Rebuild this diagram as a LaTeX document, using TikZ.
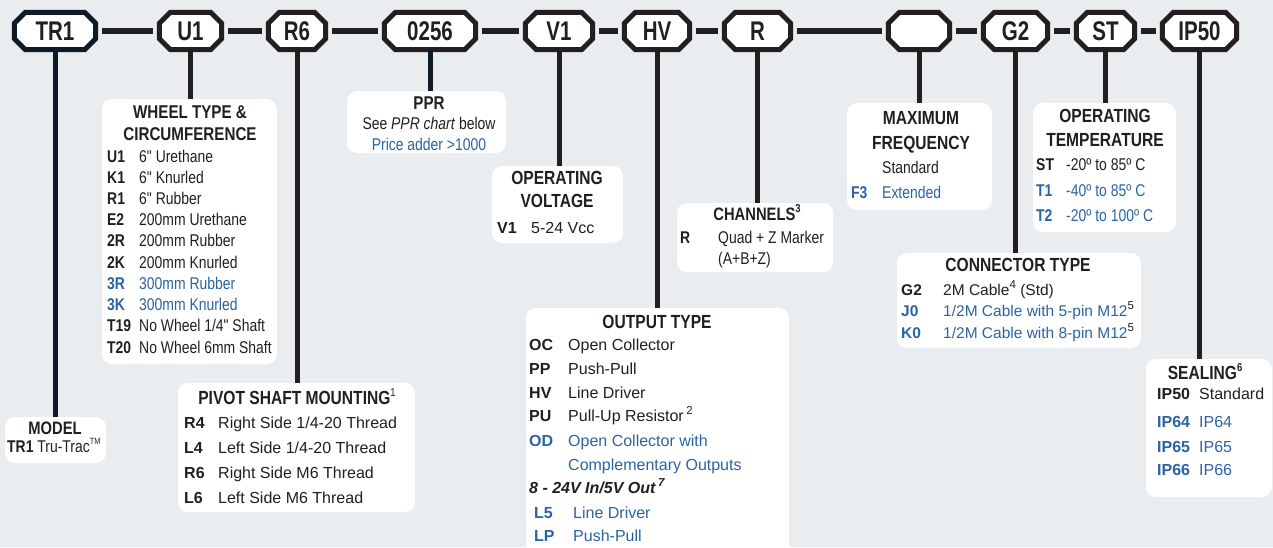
\documentclass[tikz,border=0pt]{standalone}
\usepackage{fontspec}
\setmainfont{Liberation Sans}
\newfontfamily\nar[FakeStretch=0.82]{Liberation Sans}
\newfontfamily\narr[FakeStretch=0.76]{Liberation Sans}
\usetikzlibrary{calc,backgrounds}
\definecolor{bg}{HTML}{E9EDEF}
\definecolor{ink}{HTML}{231F20}
\definecolor{navy}{HTML}{0E1A26}
\definecolor{blu}{HTML}{2C63A3}
\newcommand\myN{\nar\fontsize{17}{20}\selectfont}
\newcommand\myR{\fontsize{16}{19}\selectfont}
\newcommand\myC{\fontsize{15.5}{19}\selectfont}
\newcommand\myT{\nar\bfseries\fontsize{19}{22}\selectfont}
\newcommand\myTs{\nar\bfseries\fontsize{18.5}{22}\selectfont}
\newcommand\myTop{\narr\bfseries\fontsize{27}{27}\selectfont}
\newcommand\mysup[1]{\raisebox{0.42em}{\fontsize{11.5}{11.5}\selectfont #1}}
\newcommand\myrow[8]{%
  \node[lt,font=#5\bfseries,text=#6] (#1c) at (#2,#4) {#7};
  \node[lt,font=#5,text=#6] (#1d) at (#3,#4) {#8};}
\tikzset{
  topbox/.style={rectangle, inner sep=0, minimum height=37, text=ink, font=\myTop},
  info/.style={rectangle, fill=white, rounded corners=10, inner sep=0},
  lt/.style={anchor=base west, inner sep=0, text=ink},
  ct/.style={anchor=base, inner sep=0, text=ink},
  drop/.style={draw=ink, line width=5},
  conn/.style={draw=ink, line width=6, shorten <=6.5, shorten >=6.5},
}
\begin{document}
\begin{tikzpicture}[x=1pt,y=-1pt]
\useasboundingbox (0,0) rectangle (1273,547);
% top code boxes
\node[topbox, minimum width=81] (ntr) at (55,31) {TR1};
\node[topbox, minimum width=62] (nu) at (190.5,31) {U1};
\node[topbox, minimum width=57] (nr6) at (297,31) {R6};
\node[topbox, minimum width=91] (nppr) at (430,31) {0256};
\node[topbox, minimum width=67] (nv) at (559,31) {V1};
\node[topbox, minimum width=65] (nhv) at (657,31) {HV};
\node[topbox, minimum width=66] (nr) at (757.5,31) {R};
\node[topbox, minimum width=61] (nfr) at (919,31) {};
\node[topbox, minimum width=64] (ng) at (1015.5,31) {G2};
\node[topbox, minimum width=58] (nst) at (1105.5,31) {ST};
\node[topbox, minimum width=74] (nip) at (1199.5,31) {IP50};
\begin{scope}[on background layer]
  \fill[bg] (0,0) rectangle (1273,547);
  \foreach \n/\c in {ntr/navy,nu/ink,nr6/ink,nppr/ink,nv/ink,nhv/ink,nr/ink,nfr/ink,ng/ink,nst/ink,nip/ink}{
    \filldraw[fill=white, draw=\c, line width=5]
      ($(\n.north west)+(11,0)$) -- ($(\n.north east)+(-11,0)$) --
      ($(\n.north east)+(0,11)$) -- ($(\n.south east)+(0,-11)$) --
      ($(\n.south east)+(-11,0)$) -- ($(\n.south west)+(11,0)$) --
      ($(\n.south west)+(0,-11)$) -- ($(\n.north west)+(0,11)$) -- cycle;
  }
\end{scope}
% connectors between codes
\draw[conn] (ntr.east) -- (nu.west);
\draw[conn] (nu.east) -- (nr6.west);
\draw[conn] (nr6.east) -- (nppr.west);
\draw[conn] (nppr.east) -- (nv.west);
\draw[conn] (nv.east) -- (nhv.west);
\draw[conn] (nhv.east) -- (nr.west);
\draw[conn] (nr.east) -- (nfr.west);
\draw[conn] (nfr.east) -- (ng.west);
\draw[conn] (ng.east) -- (nst.west);
\draw[conn] (nst.east) -- (nip.west);
% info boxes
\node[info, minimum width=101, minimum height=46] (bmodel) at (55.5,440) {};
\node[info, minimum width=175, minimum height=265] (bwheel) at (189.5,231.5) {};
\node[info, minimum width=237, minimum height=129] (bpiv) at (296.5,447.5) {};
\node[info, minimum width=159, minimum height=62] (bppr) at (426.5,122) {};
\node[info, minimum width=131, minimum height=77] (bvolt) at (557.5,204.5) {};
\node[info, minimum width=263, minimum height=262] (bout) at (657.5,439) {};
\node[info, minimum width=156, minimum height=69] (bch) at (755,237.5) {};
\node[info, minimum width=145, minimum height=107] (bfreq) at (919.5,156.5) {};
\node[info, minimum width=244, minimum height=95] (bconn) at (1019,300.5) {};
\node[info, minimum width=143, minimum height=129] (btemp) at (1104.5,167.5) {};
\node[info, minimum width=126, minimum height=138] (bseal) at (1209,428) {};
% drops
\draw[drop, draw=navy] (ntr.south) -- (ntr.south |- bmodel.north);
\draw[drop] (nu.south) -- (nu.south |- bwheel.north);
\draw[drop] (nr6.south) -- (nr6.south |- bpiv.north);
\draw[drop, draw=navy] (nppr.south) -- (nppr.south |- bppr.north);
\draw[drop] (nv.south) -- (nv.south |- bvolt.north);
\draw[drop] (nhv.south) -- (nhv.south |- bout.north);
\draw[drop] (nr.south) -- (nr.south |- bch.north);
\draw[drop] (nfr.south) -- (nfr.south |- bfreq.north);
\draw[drop] (ng.south) -- (ng.south |- bconn.north);
\draw[drop] (nst.south) -- (nst.south |- btemp.north);
\draw[drop] (nip.south) -- (nip.south |- bseal.north);
% MODEL
\node[ct, font=\nar\bfseries\fontsize{18}{20}\selectfont] (tmodel) at (55,434) {MODEL};
\node[lt, font=\myN] (tmodel2) at (7,452) {\textbf{TR1} Tru-Trac\raisebox{0.45em}{\fontsize{9}{9}\selectfont TM}};
% WHEEL
\node[ct, font=\myTs] (tw1) at (190,118) {WHEEL TYPE \&};
\node[ct, font=\myTs] (tw2) at (190,140) {CIRCUMFERENCE};
\myrow{w1}{107}{139}{162}{\myN}{ink}{U1}{6" Urethane}
\myrow{w2}{107}{139}{183.2}{\myN}{ink}{K1}{6" Knurled}
\myrow{w3}{107}{139}{204.4}{\myN}{ink}{R1}{6" Rubber}
\myrow{w4}{107}{139}{225.7}{\myN}{ink}{E2}{200mm Urethane}
\myrow{w5}{107}{139}{246.9}{\myN}{ink}{2R}{200mm Rubber}
\myrow{w6}{107}{139}{268.1}{\myN}{ink}{2K}{200mm Knurled}
\myrow{w7}{107}{139}{289.3}{\myN}{blu}{3R}{300mm Rubber}
\myrow{w8}{107}{139}{310.5}{\myN}{blu}{3K}{300mm Knurled}
\myrow{w9}{107}{139}{331.8}{\myN}{ink}{T19}{No Wheel 1/4" Shaft}
\myrow{w10}{107}{139}{353}{\myN}{ink}{T20}{No Wheel 6mm Shaft}
% PIVOT
\node[ct, font=\myT] (tpiv) at (297,404) {PIVOT SHAFT MOUNTING\mysup{\mdseries 1}};
\myrow{p1}{184}{218}{428}{\myR}{ink}{R4}{Right Side 1/4-20 Thread}
\myrow{p2}{184}{218}{453}{\myR}{ink}{L4}{Left Side 1/4-20 Thread}
\myrow{p3}{184}{218}{478}{\myR}{ink}{R6}{Right Side M6 Thread}
\myrow{p4}{184}{218}{503}{\myR}{ink}{L6}{Left Side M6 Thread}
% PPR
\node[ct, font=\myTs] (tp) at (429,109) {PPR};
\node[ct, font=\myN] (tp2) at (429,129) {See \textit{PPR chart} below};
\node[ct, font=\myN, text=blu] (tp3) at (429,150) {Price adder >1000};
% VOLTAGE
\node[ct, font=\myT] (tv1) at (557,184) {OPERATING};
\node[ct, font=\myT] (tv2) at (557,207) {VOLTAGE};
\myrow{v1}{497}{531}{233}{\myR}{ink}{V1}{5-24 Vcc}
% OUTPUT
\node[ct, font=\myT] (tout) at (657,328) {OUTPUT TYPE};
\myrow{o1}{529}{568}{350}{\myR}{ink}{OC}{Open Collector}
\myrow{o2}{529}{568}{374}{\myR}{ink}{PP}{Push-Pull}
\myrow{o3}{529}{568}{398}{\myR}{ink}{HV}{Line Driver}
\myrow{o4}{529}{568}{421}{\myR}{ink}{PU}{Pull-Up Resistor\,\mysup{2}}
\myrow{o5}{529}{568}{446}{\myR}{blu}{OD}{Open Collector with}
\node[lt, font=\myR, text=blu] (o6) at (568,470) {Complementary Outputs};
\node[lt, font=\myR\bfseries\itshape] (o7) at (529,493) {8 - 24V In/5V Out\,\mysup{7}};
\myrow{o8}{534}{573}{518}{\myR}{blu}{L5}{Line Driver}
\myrow{o9}{534}{573}{541}{\myR}{blu}{LP}{Push-Pull}
% CHANNELS
\node[ct, font=\nar\bfseries\fontsize{18}{20}\selectfont] (tch) at (757,220) {CHANNELS\mysup{3}};
\node[lt, font=\myN\bfseries] (ch1c) at (680,243) {R};
\node[lt, font=\myN] (ch1d) at (718,243) {Quad + Z Marker};
\node[lt, font=\myN] (ch2d) at (718,264) {(A+B+Z)};
% FREQUENCY
\node[ct, font=\myT] (tf1) at (921,124) {MAXIMUM};
\node[ct, font=\myT] (tf2) at (921,149) {FREQUENCY};
\node[lt, font=\myN] (f1d) at (882,173) {Standard};
\myrow{f2}{851}{882}{198}{\myN}{blu}{F3}{Extended}
% CONNECTOR
\node[ct, font=\myT] (tc) at (1018,271) {CONNECTOR TYPE};
\myrow{c1}{901}{943}{295}{\myC}{ink}{G2}{2M Cable\mysup{4} (Std)}
\myrow{c2}{901}{943}{316}{\myC}{blu}{J0}{1/2M Cable with 5-pin M12\mysup{\color{ink}5}}
\myrow{c3}{901}{943}{338}{\myC}{blu}{K0}{1/2M Cable with 8-pin M12\mysup{\color{ink}5}}
% TEMPERATURE
\node[ct, font=\myT] (tt1) at (1105,122) {OPERATING};
\node[ct, font=\myT] (tt2) at (1105,146) {TEMPERATURE};
\myrow{t1}{1036}{1066}{170}{\myN}{ink}{ST}{-20º to 85º C}
\myrow{t2}{1036}{1066}{196}{\myN}{blu}{T1}{-40º to 85º C}
\myrow{t3}{1036}{1066}{221}{\myN}{blu}{T2}{-20º to 100º C}
% SEALING
\node[ct, font=\myT] (ts) at (1205,379) {SEALING\mysup{6}};
\myrow{s1}{1157}{1199}{399}{\myR}{ink}{IP50}{Standard}
\myrow{s2}{1157}{1199}{427}{\myR}{blu}{IP64}{IP64}
\myrow{s3}{1157}{1199}{452}{\myR}{blu}{IP65}{IP65}
\myrow{s4}{1157}{1199}{475}{\myR}{blu}{IP66}{IP66}
\end{tikzpicture}
\end{document}
